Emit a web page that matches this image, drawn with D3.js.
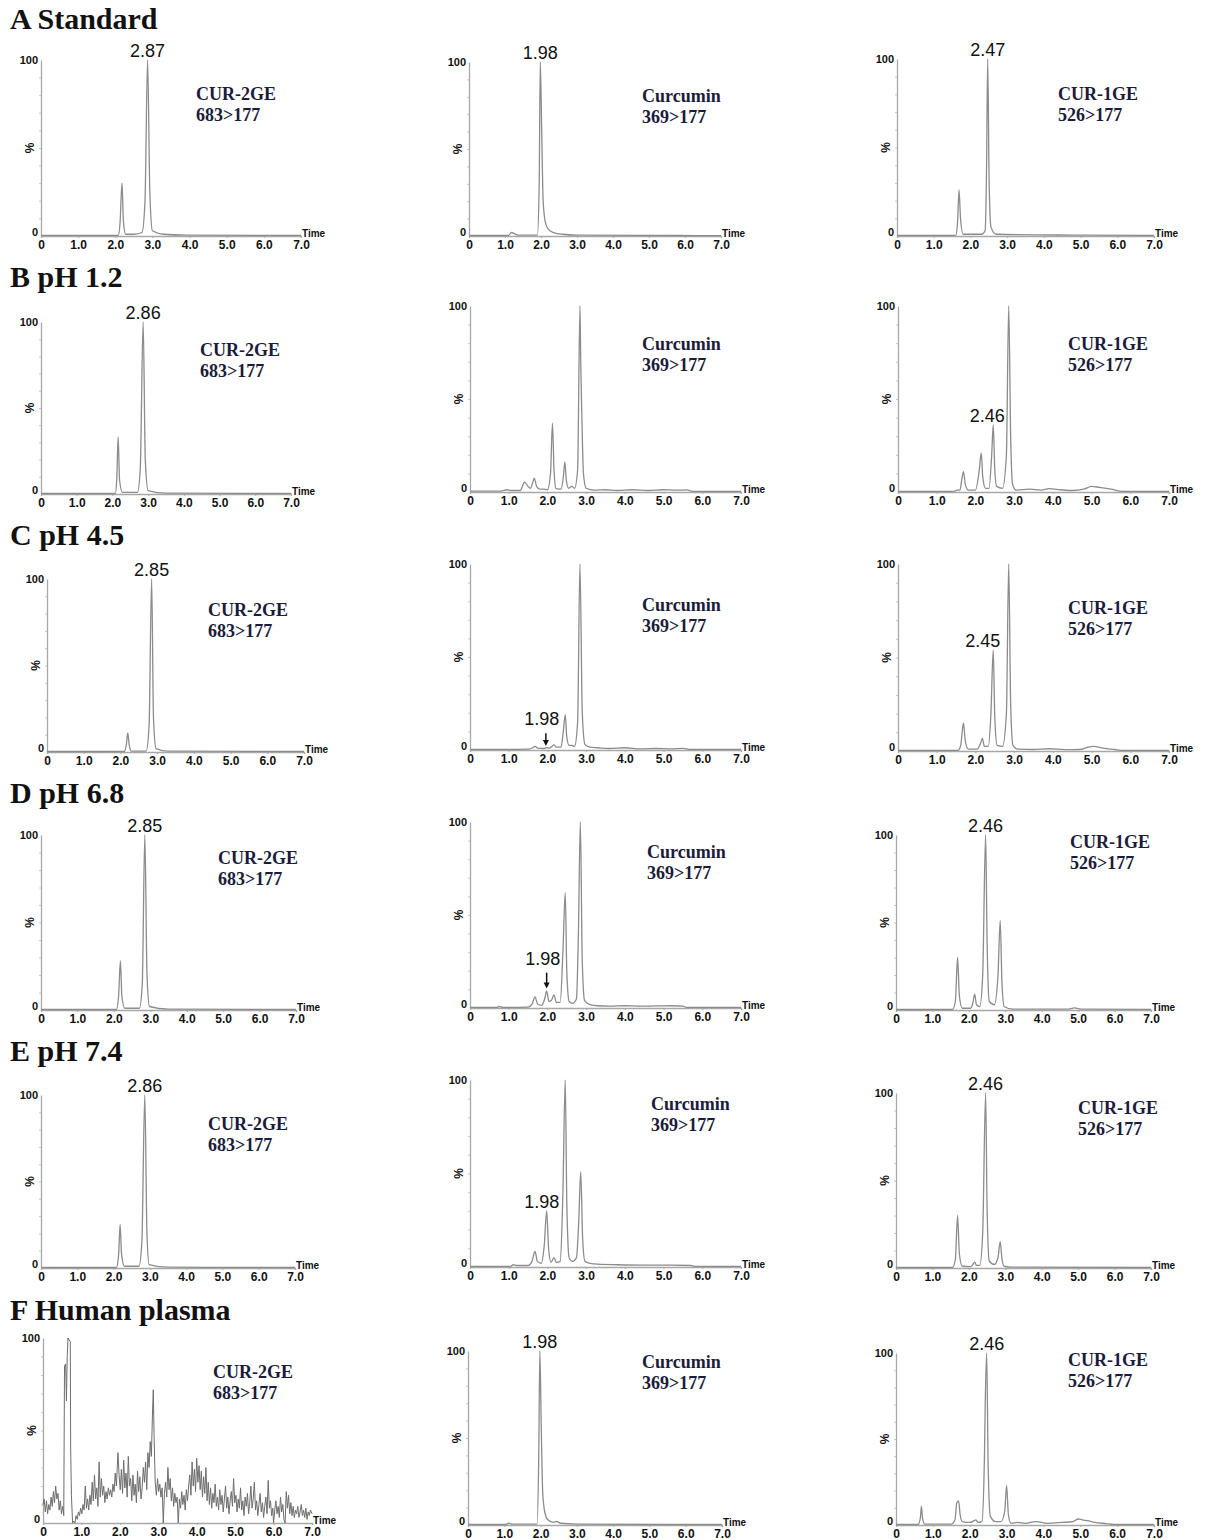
<!DOCTYPE html>
<html>
<head>
<meta charset="utf-8">
<script src="https://cdn.jsdelivr.net/npm/d3@7"></script>
<style>
  body { margin: 0; background: #fff; }
  svg { display: block; }
  .tick text { font-family: Arial, "Liberation Sans", sans-serif; font-weight: bold; font-size: 12px; fill: #111; }
</style>
</head>
<body>
<div id="chart"></div>
<script>
// row titles / compounds
const rowTitles = ['A Standard', 'B pH 1.2', 'C pH 4.5', 'D pH 6.8', 'E pH 7.4', 'F Human plasma'];
const compounds = ['CUR-2GE', 'Curcumin', 'CUR-1GE'];
const transitions = ['683>177', '369>177', '526>177'];
const timeTicks = [0, 1, 2, 3, 4, 5, 6, 7];

// traces: [time (min), relative abundance %]
const traceA1 = [[0,0.3],[2.08,0.3],[2.13,8],[2.18,30],[2.22,8],[2.28,1],[2.5,1],[2.72,2],[2.8,20],[2.87,100],[2.93,25],[3.0,3],[3.3,1],[3.9,0.5],[7,0.3]];
const traceA2 = [[0,0.3],[1.1,0.3],[1.18,2],[1.25,1.5],[1.35,0.5],[1.9,0.5],[1.95,30],[1.98,100],[2.02,60],[2.06,20],[2.12,8],[2.2,4],[2.35,2],[2.6,1],[3,0.5],[5.8,0.3],[7,0.2]];
const traceA3 = [[0,0.3],[1.6,0.3],[1.65,8],[1.69,26],[1.73,10],[1.8,1],[2.3,1],[2.4,3],[2.44,40],[2.47,100],[2.51,30],[2.56,5],[2.7,1],[4.8,0.5],[7,0.3]];

const traceB1 = [[0,0.3],[2.08,0.3],[2.12,8],[2.16,33],[2.2,8],[2.28,1],[2.7,1],[2.78,15],[2.86,100],[2.92,20],[3.0,2],[3.5,0.5],[7,0.3]];
const traceB2 = [[0,0.5],[0.8,0.5],[0.95,1.2],[1.05,0.8],[1.3,0.8],[1.37,4],[1.41,5.3],[1.5,3],[1.56,2],[1.62,5],[1.66,7.5],[1.72,3],[1.8,1.5],[1.9,1.5],[2.0,1.2],[2.08,10],[2.13,37],[2.17,12],[2.22,2],[2.35,1.5],[2.41,8],[2.45,16],[2.49,6],[2.55,2],[2.63,3],[2.7,2],[2.78,12],[2.84,100],[2.86,70],[2.89,40],[2.93,10],[3.0,2],[3.2,1],[3.5,1.2],[3.8,0.8],[4.2,1.2],[4.6,0.8],[5.0,1.2],[5.3,1],[5.6,1.1],[5.75,0.3],[7,0.3]];
const traceB3 = [[0,0.3],[1.45,0.3],[1.52,1],[1.6,1],[1.65,7],[1.69,11],[1.74,4],[1.82,1],[2.0,1],[2.1,12],[2.15,21],[2.19,8],[2.26,2],[2.35,2],[2.42,20],[2.46,36],[2.5,12],[2.55,3],[2.7,2],[2.8,20],[2.86,100],[2.91,30],[2.96,4],[3.05,1],[3.4,1.5],[3.7,1],[3.9,1.8],[4.2,1.2],[4.5,0.8],[4.8,1.5],[5.0,3],[5.2,2.5],[5.5,1.5],[5.8,0.3],[7,0.3]];

const traceC1 = [[0,0.3],[2.1,0.3],[2.16,4],[2.2,11],[2.24,4],[2.3,0.5],[2.7,0.5],[2.78,15],[2.85,100],[2.9,20],[2.97,2],[3.3,0.5],[7,0.3]];
const traceC2 = [[0,0.3],[1.0,0.3],[1.5,0.5],[1.62,1.2],[1.68,2],[1.75,1],[1.9,0.8],[1.98,1.3],[2.05,1],[2.12,2],[2.17,2.8],[2.23,1.5],[2.35,1.5],[2.41,10],[2.46,19],[2.5,7],[2.56,2.5],[2.63,2.5],[2.7,2],[2.78,15],[2.84,100],[2.9,20],[2.97,3],[3.1,1.5],[3.3,1.2],[3.6,0.8],[4.0,1.2],[4.4,0.6],[4.8,0.8],[5.2,0.6],[5.5,0.9],[5.7,0.3],[7,0.3]];
const traceC3 = [[0,0.3],[1.55,0.3],[1.62,3],[1.69,15],[1.74,5],[1.82,1],[2.05,1],[2.13,4],[2.18,6.7],[2.23,2.5],[2.33,2.5],[2.4,20],[2.46,54],[2.5,18],[2.56,3],[2.7,2.5],[2.8,20],[2.86,100],[2.91,25],[2.97,3],[3.1,1],[3.5,0.8],[3.9,1.2],[4.3,0.7],[4.7,0.8],[4.9,2],[5.05,2.5],[5.3,1.5],[5.6,0.8],[5.8,0.3],[7,0.3]];

const traceD1 = [[0,0.3],[2.07,0.3],[2.13,8],[2.18,28],[2.22,8],[2.3,1],[2.7,1],[2.78,15],[2.85,100],[2.91,20],[2.98,2],[3.5,0.5],[7,0.3]];
const traceD2 = [[0,0.3],[0.7,0.3],[0.75,0.8],[0.85,0.3],[1.5,0.5],[1.6,2],[1.68,6],[1.75,2],[1.85,1.5],[1.93,5],[1.98,9],[2.04,3.5],[2.1,4],[2.17,7],[2.23,3],[2.33,3],[2.4,30],[2.46,62],[2.5,20],[2.56,3.5],[2.65,2.5],[2.75,5],[2.8,40],[2.85,100],[2.9,25],[2.96,4],[3.1,1.8],[3.3,1.2],[3.6,1],[4.0,1.2],[4.4,1],[4.8,1.1],[5.2,1.2],[5.5,1],[5.6,0.3],[7,0.3]];
const traceD3 = [[0,0.3],[1.55,0.3],[1.63,5],[1.69,30],[1.74,8],[1.82,1],[2.05,1],[2.11,4],[2.16,9],[2.21,3],[2.3,2],[2.38,20],[2.46,100],[2.5,40],[2.56,5],[2.7,3],[2.8,20],[2.86,51],[2.91,15],[2.97,2],[3.2,0.5],[4.7,0.5],[4.9,1.2],[5.1,0.5],[7,0.3]];

const traceE1 = [[0,0.3],[2.08,0.3],[2.14,8],[2.18,25],[2.22,8],[2.3,1],[2.7,1],[2.78,15],[2.86,100],[2.92,20],[2.98,2],[3.5,0.5],[7,0.3]];
const traceE2 = [[0,0.3],[1.05,0.3],[1.12,1.2],[1.2,0.8],[1.5,0.8],[1.6,3],[1.68,8.3],[1.74,3],[1.84,2],[1.92,12],[1.98,30],[2.03,10],[2.09,2.5],[2.17,5],[2.23,2.5],[2.33,3],[2.4,40],[2.46,100],[2.5,35],[2.56,5],[2.65,3],[2.75,5],[2.81,25],[2.86,51],[2.91,15],[2.97,3],[3.1,2],[3.3,1.5],[3.8,1.2],[4.5,1],[5.2,1],[5.7,0.8],[5.8,0.3],[7,0.3]];
const traceE3 = [[0,0.3],[1.55,0.3],[1.63,5],[1.69,30],[1.74,8],[1.82,1],[2.05,0.8],[2.11,2],[2.16,3.4],[2.21,1.5],[2.3,1.5],[2.38,20],[2.46,100],[2.5,35],[2.56,4],[2.7,2],[2.8,6],[2.86,15],[2.91,5],[2.97,1],[3.2,0.5],[7,0.3]];

const traceF1 = [[0,10],[0.03,13],[0.06,6],[0.09,12],[0.12,5],[0.15,10],[0.18,7],[0.21,14],[0.24,9],[0.27,17],[0.3,11],[0.33,20],[0.36,13],[0.39,16],[0.42,7],[0.45,12],[0.48,5],[0.51,9],[0.54,4],
  [0.56,85],[0.59,86],[0.61,66],[0.63,90],[0.65,100],[0.68,99],[0.71,98],[0.72,40],[0.74,15],[0.77,0],[0.8,1],[0.83,0],
  [0.86,4],[0.89,2],[0.92,6],[0.95,4],[0.98,8],[1.01,5],[1.04,10],[1.07,7],[1.1,20],[1.13,8],[1.16,13],[1.19,7],[1.22,15],[1.25,10],[1.28,22],[1.31,12],[1.34,26],[1.37,13],[1.4,19],[1.43,9],[1.46,33],[1.49,14],[1.52,24],[1.55,15],[1.58,20],[1.61,11],[1.64,17],[1.67,13],[1.7,19],[1.73,15],[1.76,18],[1.79,14],[1.82,21],[1.85,17],[1.88,27],[1.91,20],[1.95,38],[1.98,26],
  [2.01,18],[2.04,29],[2.07,16],[2.1,34],[2.13,19],[2.16,27],[2.19,14],[2.22,36],[2.25,20],[2.28,24],[2.31,12],[2.34,26],[2.37,15],[2.4,21],[2.43,11],[2.46,28],[2.49,17],[2.52,25],[2.55,13],[2.58,19],[2.61,30],[2.64,22],[2.67,33],[2.7,18],[2.73,38],[2.76,30],[2.79,44],[2.82,36],[2.85,60],[2.87,72],[2.89,48],
  [2.92,22],[2.95,15],[2.98,24],[3.01,17],[3.04,21],[3.07,14],[3.1,19],[3.13,0],[3.16,16],[3.19,22],[3.22,14],[3.25,30],[3.28,18],[3.31,24],[3.34,12],[3.37,19],[3.4,9],[3.43,16],[3.46,11],[3.49,14],[3.52,0],[3.55,13],
  [3.58,8],[3.61,17],[3.64,10],[3.67,15],[3.7,7],[3.73,18],[3.76,12],[3.79,20],[3.82,26],[3.85,15],[3.88,33],[3.91,20],[3.94,29],[3.97,17],[4.0,35],[4.03,22],[4.06,31],[4.09,18],[4.12,28],[4.15,14],[4.18,25],[4.21,16],[4.24,30],[4.27,12],[4.3,22],
  [4.33,10],[4.36,19],[4.39,8],[4.42,16],[4.45,11],[4.48,21],[4.51,9],[4.54,14],[4.57,7],[4.6,18],[4.63,10],[4.66,15],[4.69,6],[4.72,13],[4.75,20],[4.78,8],[4.81,14],[4.84,5],[4.87,12],[4.9,17],[4.93,9],[4.96,24],[4.99,11],
  [5.02,15],[5.05,6],[5.08,13],[5.11,8],[5.14,19],[5.17,7],[5.2,12],[5.23,4],[5.26,14],[5.29,9],[5.32,16],[5.35,5],[5.38,11],[5.41,20],[5.44,8],[5.47,13],[5.5,22],[5.53,7],[5.56,12],[5.59,4],[5.62,10],[5.65,16],[5.68,6],[5.71,11],[5.74,3],[5.77,9],[5.8,14],[5.83,5],[5.86,23],[5.89,8],[5.92,12],[5.95,4],[5.98,8],[6.0,0],[6.03,7],
  [6.06,12],[6.09,5],[6.12,9],[6.15,3],[6.18,14],[6.21,6],[6.24,10],[6.27,2],[6.3,0],[6.33,17],[6.36,8],[6.39,15],[6.42,5],[6.45,11],[6.48,4],[6.51,9],[6.54,3],[6.57,7],[6.6,5],[6.63,9],[6.66,3],[6.69,6],[6.72,10],[6.75,4],[6.78,7],[6.81,3],[6.84,8],[6.87,2],[6.9,6],[6.93,4],[6.96,7],[7.0,5]];
const traceF2 = [[0,0.3],[1.05,0.3],[1.12,1],[1.2,0.5],[1.9,0.5],[1.95,40],[1.98,100],[2.02,55],[2.06,18],[2.12,7],[2.2,3],[2.35,1.5],[2.45,2],[2.55,1],[3,0.5],[5.5,0.3],[7,0.3]];
const traceF3 = [[0,0.3],[0.6,0.3],[0.66,4],[0.69,11],[0.72,4],[0.78,0.5],[1.5,0.5],[1.6,3],[1.65,13],[1.7,14],[1.74,6],[1.8,2],[2.0,1.5],[2.12,2.5],[2.17,3],[2.23,1.5],[2.33,2],[2.4,40],[2.42,69],[2.46,100],[2.5,35],[2.56,5],[2.7,2],[2.85,2],[2.95,8],[3.0,23],[3.05,6],[3.12,1],[3.3,1.5],[3.5,1],[3.8,2],[4.1,1],[4.5,1.5],[4.8,2],[4.95,3.5],[5.05,3],[5.2,2.5],[5.4,1.5],[5.7,0.8],[5.9,0.3],[7,0.3]];

// peak labels: retention time, % where label sits, optional arrow tip %
const peakLabels = [
  { id: 'A1', text: '2.87', t: 2.87, v: 100 },
  { id: 'A2', text: '1.98', t: 1.98, v: 100 },
  { id: 'A3', text: '2.47', t: 2.47, v: 100 },
  { id: 'B1', text: '2.86', t: 2.86, v: 100 },
  { id: 'B3', text: '2.46', t: 2.46, v: 36, dx: -6 },
  { id: 'C1', text: '2.85', t: 2.85, v: 100 },
  { id: 'C2', text: '1.98', t: 1.96, v: 12, dx: -4, arrowFrom: 9, arrowTo: 2.2 },
  { id: 'C3', text: '2.45', t: 2.45, v: 54, dx: -10 },
  { id: 'D1', text: '2.85', t: 2.85, v: 100 },
  { id: 'D2', text: '1.98', t: 1.98, v: 21.5, dx: -4, arrowFrom: 19, arrowTo: 10.5 },
  { id: 'D3', text: '2.46', t: 2.46, v: 100 },
  { id: 'E1', text: '2.86', t: 2.86, v: 100 },
  { id: 'E2', text: '1.98', t: 1.98, v: 30, dx: -5 },
  { id: 'E3', text: '2.46', t: 2.46, v: 100 },
  { id: 'F2', text: '1.98', t: 1.98, v: 100 },
  { id: 'F3', text: '2.46', t: 2.46, v: 100 }
];

const traces = {
  A1: traceA1, A2: traceA2, A3: traceA3, B1: traceB1, B2: traceB2, B3: traceB3,
  C1: traceC1, C2: traceC2, C3: traceC3, D1: traceD1, D2: traceD2, D3: traceD3,
  E1: traceE1, E2: traceE2, E3: traceE3, F1: traceF1, F2: traceF2, F3: traceF3
};

// panel placement (pixels): y axis x, x of 7.0, y of 100%, y of 0%, compound label pos
const panels = [
  { id: 'A1', row: 0, col: 0, x0: 41, x7: 301, top: 60, base: 236, lx: 196, ly: 100 },
  { id: 'A2', row: 0, col: 1, x0: 469, x7: 721, top: 62, base: 236, lx: 642, ly: 102 },
  { id: 'A3', row: 0, col: 2, x0: 897, x7: 1154, top: 59, base: 236, lx: 1058, ly: 100 },
  { id: 'B1', row: 1, col: 0, x0: 41, x7: 291, top: 322, base: 494, lx: 200, ly: 356 },
  { id: 'B2', row: 1, col: 1, x0: 470, x7: 741, top: 306, base: 492, lx: 642, ly: 350 },
  { id: 'B3', row: 1, col: 2, x0: 898, x7: 1169, top: 306, base: 492, lx: 1068, ly: 350 },
  { id: 'C1', row: 2, col: 0, x0: 47, x7: 304, top: 579, base: 752, lx: 208, ly: 616 },
  { id: 'C2', row: 2, col: 1, x0: 470, x7: 741, top: 564, base: 750, lx: 642, ly: 611 },
  { id: 'C3', row: 2, col: 2, x0: 898, x7: 1169, top: 564, base: 751, lx: 1068, ly: 614 },
  { id: 'D1', row: 3, col: 0, x0: 41, x7: 296, top: 835, base: 1010, lx: 218, ly: 864 },
  { id: 'D2', row: 3, col: 1, x0: 470, x7: 741, top: 822, base: 1008, lx: 647, ly: 858 },
  { id: 'D3', row: 3, col: 2, x0: 896, x7: 1151, top: 835, base: 1010, lx: 1070, ly: 848 },
  { id: 'E1', row: 4, col: 0, x0: 41, x7: 295, top: 1095, base: 1268, lx: 208, ly: 1130 },
  { id: 'E2', row: 4, col: 1, x0: 470, x7: 741, top: 1080, base: 1267, lx: 651, ly: 1110 },
  { id: 'E3', row: 4, col: 2, x0: 896, x7: 1151, top: 1093, base: 1268, lx: 1078, ly: 1114 },
  { id: 'F1', row: 5, col: 0, x0: 43, x7: 312, top: 1338, base: 1523, lx: 213, ly: 1378 },
  { id: 'F2', row: 5, col: 1, x0: 468, x7: 722, top: 1351, base: 1525, lx: 642, ly: 1368 },
  { id: 'F3', row: 5, col: 2, x0: 896, x7: 1154, top: 1353, base: 1525, lx: 1068, ly: 1366 }
];
const titleY = [29, 287, 545, 803, 1061, 1320];

const W = 1207, H = 1540;
const svg = d3.select('#chart').append('svg')
  .attr('width', W).attr('height', H)
  .attr('viewBox', [0, 0, W, H]);

svg.selectAll('text.row-title')
  .data(rowTitles)
  .join('text')
  .attr('class', 'row-title')
  .attr('x', 10)
  .attr('y', (d, i) => titleY[i])
  .attr('font-family', '"Liberation Serif", "Times New Roman", serif')
  .attr('font-weight', 'bold')
  .attr('font-size', 30)
  .attr('fill', '#111')
  .text(d => d);

panels.forEach(p => {
  const x = d3.scaleLinear().domain([0, 7]).range([p.x0, p.x7]);
  const y = d3.scaleLinear().domain([0, 100]).range([p.base, p.top]);
  const g = svg.append('g').attr('class', 'panel-' + p.id);

  // y axis: minor ticks then labels
  g.append('g')
    .attr('transform', `translate(${p.x0},0)`)
    .call(d3.axisLeft(y).tickValues(d3.range(10, 100, 10)).tickSize(2).tickFormat(''))
    .call(a => a.selectAll('line').attr('stroke', '#c8c8c8'))
    .call(a => a.select('.domain').remove());

  g.append('g')
    .attr('transform', `translate(${p.x0},0)`)
    .call(d3.axisLeft(y).tickValues([0, 100]).tickSize(0).tickPadding(3).tickFormat(d3.format('d')))
    .call(a => a.select('.domain').attr('stroke', '#a8a8a8').attr('stroke-width', 1.3))
    .call(a => a.selectAll('.tick text').style('font-size', '11px'))
    .call(a => a.selectAll('.tick').filter(d => d === 0).select('text').attr('dy', '-0.05em'));

  // x axis
  g.append('g')
    .attr('transform', `translate(0,${p.base})`)
    .call(d3.axisBottom(x).tickValues(timeTicks).tickSize(2).tickPadding(2)
      .tickFormat(d => d === 0 ? '0' : d3.format('.1f')(d)))
    .call(a => a.select('.domain').attr('stroke', '#a8a8a8').attr('stroke-width', 1.3))
    .call(a => a.selectAll('line').attr('stroke', '#a8a8a8'));

  g.append('text')
    .attr('x', p.x7 + 1)
    .attr('y', p.base + 1)
    .attr('font-family', 'Arial, "Liberation Sans", sans-serif')
    .attr('font-weight', 'bold')
    .attr('font-size', 10)
    .attr('fill', '#111')
    .text('Time');

  g.append('text')
    .attr('transform', `translate(${p.x0 - 7},${(p.top + p.base) / 2}) rotate(-90)`)
    .attr('text-anchor', 'middle')
    .attr('font-family', 'Arial, "Liberation Sans", sans-serif')
    .attr('font-weight', 'bold')
    .attr('font-size', 12)
    .attr('fill', '#111')
    .text('%');

  // trace
  const line = d3.line()
    .x(d => x(d[0]))
    .y(d => y(d[1]))
    .curve(p.id === 'F1' ? d3.curveLinear : d3.curveMonotoneX);

  g.append('path')
    .datum(traces[p.id])
    .attr('fill', 'none')
    .attr('stroke', p.id === 'F1' ? '#6e6e6e' : '#8c8c8c')
    .attr('stroke-width', p.id === 'F1' ? 1 : 1.3)
    .attr('stroke-linejoin', 'round')
    .attr('d', line);

  // compound label
  const lab = g.append('text')
    .attr('font-family', '"Liberation Serif", "Times New Roman", serif')
    .attr('font-weight', 'bold')
    .attr('font-size', 18)
    .attr('fill', '#1b1b3a');
  lab.append('tspan').attr('x', p.lx).attr('y', p.ly).text(compounds[p.col]);
  lab.append('tspan').attr('x', p.lx).attr('y', p.ly + 21).text(transitions[p.col]);

  // peak labels
  peakLabels.filter(d => d.id === p.id).forEach(d => {
    const px = x(d.t);
    g.append('text')
      .attr('x', px + (d.dx || 0))
      .attr('y', y(d.v) - 3)
      .attr('text-anchor', 'middle')
      .attr('font-family', 'Arial, "Liberation Sans", sans-serif')
      .attr('font-size', 18)
      .attr('fill', '#111')
      .text(d.text);
    if (d.arrowFrom != null) {
      const y1 = y(d.arrowFrom), y2 = y(d.arrowTo);
      g.append('line')
        .attr('x1', px).attr('x2', px)
        .attr('y1', y1).attr('y2', y2 - 4)
        .attr('stroke', '#111').attr('stroke-width', 1.5);
      g.append('path')
        .attr('d', `M${px - 3},${y2 - 6}L${px + 3},${y2 - 6}L${px},${y2}Z`)
        .attr('fill', '#111');
    }
  });
});
</script>
</body>
</html>
